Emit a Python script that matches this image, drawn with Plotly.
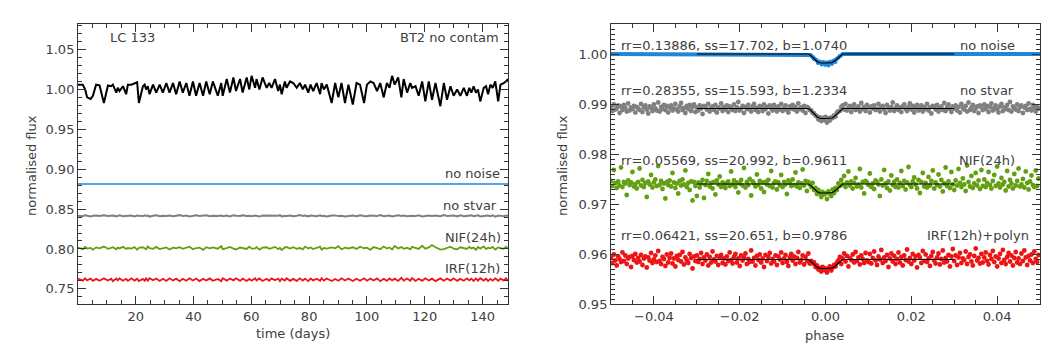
import plotly.graph_objects as go

# ---- left panel: light curve LC 133 (BT2, no contamination) ----
bt2_time = [
    0.0, 1.7, 2.5, 3.2, 4.4, 5.2, 6.3, 7.5, 9.0, 10.4, 11.5, 12.1, 13.3, 13.8, 14.4, 15.6,
    16.7, 17.3, 18.5, 19.6, 20.5, 21.1, 22.5, 23.1, 23.6, 24.2, 24.8, 26.0, 27.1, 28.3, 29.4,
    30.6, 31.7, 32.9, 34.0, 35.2, 36.3, 37.5, 38.6, 39.8, 40.9, 42.1, 43.3, 44.4, 45.6, 46.7,
    48.4, 49.6,
    50.1, 51.5, 52.6, 53.8, 54.7, 56.1, 57.0, 58.4, 59.3, 60.1, 61.3, 61.8, 62.8, 63.9, 65.3,
    66.2, 67.0, 68.2, 69.3, 69.9, 70.5, 71.6, 72.2, 73.4, 74.5, 75.7, 76.8, 77.8, 78.6, 79.7,
    80.5, 81.4, 82.6, 83.8, 84.3, 85.1, 86.1, 87.8, 89.0, 90.1, 91.2, 92.4, 93.6, 95.1, 96.4,
    97.6, 99.0,
    100.0, 101.2, 102.3, 103.5, 104.6, 105.8, 106.9, 107.8, 108.7, 109.6, 110.8, 111.9, 112.7,
    113.9, 115.0, 115.6, 116.8, 117.9, 119.1, 120.2, 121.4, 122.5, 123.7, 125.4, 126.6, 127.7,
    128.9, 130.0, 131.2, 132.3, 133.5, 134.6, 135.4, 136.1, 136.9, 137.7, 138.4, 139.2, 140.4,
    141.2, 141.9, 142.7, 143.5, 144.4, 145.4, 146.2, 147.3, 148.1, 148.8,
]
bt2_flux = [
    1.006, 1.006, 1.000, 0.990, 0.988, 0.992, 1.006, 1.005, 0.983, 1.005, 1.004, 1.006, 0.996,
    1.002, 0.998, 1.004, 0.994, 1.006, 1.006, 1.008, 1.009, 0.983, 1.004, 1.006, 1.000, 1.004,
    0.994, 1.006, 0.996, 1.006, 0.996, 1.008, 0.996, 1.008, 0.994, 1.010, 0.996, 1.008, 0.992,
    1.010, 0.992, 1.008, 0.992, 1.010, 0.994, 1.010, 0.992, 1.008,
    0.992, 1.013, 0.996, 1.015, 0.998, 1.013, 0.996, 1.015, 1.000, 1.017, 1.002, 1.013, 1.000,
    1.015, 1.002, 1.008, 1.002, 1.013, 0.998, 1.006, 0.994, 1.010, 1.002, 1.010, 1.008, 1.002,
    1.008, 1.000, 1.006, 0.996, 1.006, 0.998, 1.008, 0.994, 1.008, 1.000, 1.006, 0.983, 1.008,
    0.990, 1.008, 0.983, 1.006, 0.981, 1.008, 1.006, 0.983,
    1.006, 1.010, 1.008, 0.998, 1.008, 0.990, 1.008, 1.002, 1.017, 1.006, 1.015, 0.990, 1.013,
    0.996, 1.008, 1.002, 1.004, 0.992, 1.010, 0.985, 1.010, 0.987, 1.008, 0.979, 1.008, 0.987,
    1.004, 0.992, 1.000, 0.992, 1.002, 0.992, 1.002, 0.996, 1.004, 0.996, 1.000, 0.985, 1.002,
    1.004, 0.994, 1.006, 1.002, 1.010, 0.985, 1.006, 1.008, 1.010, 1.013,
]

# offset levels of the processed curves (left panel)
nonoise_time = [0.0, 148.8]
nonoise_flux = [0.8815, 0.8815]
stvar_level = 0.8415
nif_level = 0.8010
irf_level = 0.7615

# residual wiggles, in units of 1e-4 flux (same sampling as bt2_time)
stvar_dev = [
    3, -4, 6, -1, -7, 2, 5, -3, 8, -2, 0, 4, -6, 1, 7, -5, 2, -1,
    5, -8, 3, 0, -3, 6, -2, 4, -9, 1, 7, -4, 2, -1, 5, -6, 3, 9,
    -2, 4, -7, 1, 6, -3, 0, 8, -5, 2, -1, 5, -4, 3, -8, 6, 1, -2,
    7, -3, 2, -6, 4, 0, -9, 5, 3, -1, 6, -4, 1, 8, -7, 2, -3, 4,
    -5, 1, 9, -2, 3, -6, 5, 0, -4, 7, -1, 2, -8, 4, 6, -3, 1, -7,
    2, 5, -4, 8, -1, -6, 3, 1, -3, 10, -5, 2, 4, -7, 0, 6, -2, 3,
    -6, 4, 1, -3, 7, -8, 2, 5, -1, 3, -5, 9, -2, 0, 4, -6, 7, -4,
    1, -2, 6, -5, 3, 8, -7, 2, -1, 4, -3, 6, -9, 5, 0, -4, 3, 2,
]
nif_dev = [
    8, -12, 15, -5, 3, -18, 10, -2, 20, -9, 4, 12, -15, 6, -3, 17, -10, 2,
    -6, 14, -20, 5, 11, -4, -13, 22, 0, -8, 16, -11, 3, 9, -17, 6, -1, 13,
    -9, 4, 18, -14, 2, 7, -21, 12, -3, 10, -7, 25, -12, 1, 15, -6, -16, 8,
    3, -10, 19, -5, -2, 13, -18, 6, 11, -8, 0, 16, -13, 4, -23, 9, 14, -4,
    12, -7, 2, -15, 20, -3, 8, -11, 5, 17, -19, 3, -6, 10, -2, 24, -14, 7,
    -4, 11, -9, 18, -1, 6, -20, 14, 2, -12, 21, -5, 9, -16, 28, -3, 13, -8,
    5, -14, 16, -2, -10, 30, -6, 9, 40, 12, -18, -11, 4, 19, -7, -15, 11, 2,
    -9, 17, -3, 8, -20, 14, -5, 22, -12, 6, -1, 15, -17, 10, 3, -8, 18, -6,
]
irf_dev = [
    15, -12, 18, -8, 14, -16, 10, -14, 17, -10, 12, -18, 15, -9, 16, -13, 11, -15,
    18, -11, 13, -17, 9, -14, 16, -12, 19, -8, 14, -15, 12, -16, 17, -10, 13, -18,
    11, -13, 18, -9, 15, -17, 12, -11, 16, -14, 10, -18, 19, -12, 14, -9, 17, -15,
    13, -16, 9, -12, 18, -10, 15, -17, 11, -13, 16, -8, 14, -19, 12, -11, 18, -14,
    10, -15, 17, -12, 13, -18, 16, -9, 12, -14, 19, -11, 15, -16, 9, -13, 17, -10,
    14, -17, 11, -13, 18, -12, 15, -10, 16, -18, 12, -14, 17, -9, 13, -16, 24, -11,
    15, -12, 19, -16, 11, -14, 17, -10, 13, -18, 16, -12, 14, -11, 18, -15, 10, -13,
    17, -9, 12, -16, 15, -13, 19, -11, 14, -17, 10, -12, 16, -14, 13, -10, 18, -15,
]

# ---- right panel: phase-folded transits ----
blue_phase = [-0.05, -0.004, -0.0035, -0.003, -0.0025, -0.002, -0.0015, -0.001, -0.0005,
              0.0, 0.0005, 0.001, 0.0015, 0.002, 0.0025, 0.003, 0.0035, 0.004, 0.05]
blue_flux = [1.0, 1.0, 0.9998, 0.9994, 0.9990, 0.9986, 0.9983, 0.9982, 0.9982, 0.9982,
             0.9982, 0.9982, 0.9983, 0.9986, 0.9990, 0.9994, 0.9998, 1.0, 1.0]
blue_dip_phase = [-0.0032, -0.0027, -0.0022, -0.0018, -0.0013, -0.0009, -0.0005, -0.0001,
                  0.0003, 0.0007, 0.0011, 0.0015, 0.0019, 0.0023, 0.0028, 0.0033]
blue_dip_flux = [0.9995, 0.9990, 0.9988, 0.9982, 0.9985, 0.9979, 0.9984, 0.9978,
                 0.9983, 0.9977, 0.9985, 0.9980, 0.9987, 0.9984, 0.9991, 0.9996]

grey_level = 0.9891
green_level = 0.9740
red_level = 0.9589

# per-point deviations in units of 1e-4 flux, 300 points across the phase range
grey_dev = [
    3, -5, 8, -2, 0, 6, -9, 4, -3, 7, 1, -6, 10, -4, 2, -1, 5, -8, 3, 0,
    -3, 9, -7, 2, 6, -2, -10, 4, 1, -5, 8, 0, -4, 12, -6, 3, -1, 7, -3, 5,
    -8, 2, 6, -4, 0, 9, -2, -6, 4, 11, -3, 1, -9, 5, -1, 7, -5, 3, 8, -7,
    2, -4, 6, 0, -11, 5, 3, -2, 9, -6, 1, 4, -3, 7, -8, 2, 0, 10, -5, 3,
    -2, 6, -7, 4, 1, -3, 8, -5, 2, 13, -4, 0, 5, -9, 3, -1, 7, -2, -6, 4,
    9, -3, 1, -7, 5, 2, -5, 8, -1, 3, -10, 6, 0, -4, 7, 2, -6, 4, -2, 9,
    -5, 1, 6, -3, -8, 4, 0, 7, -2, 3, -6, 10, -1, 2, -4, 5, -9, 3, 1, -3,
    -4, -9, -10, -14, -16, -22, -18, -25, -19, -23, -17, -28, -20, -24, -18, -19, -14, -16, -8, -6,
    -5, 3, 6, -2, 9, -4, 1, 5, -7, 2, 8, -3, 0, 4, -6, 11, -1, 3, -5, 7,
    2, -8, 4, 0, 6, -3, -1, 9, -6, 3, 5, -2, -9, 7, 1, -4, 3, 12, -5, 0,
    6, -3, 2, -7, 4, 8, -1, -5, 3, 10, -2, 5, -8, 1, 7, -4, 0, 6, -6, 3,
    -1, 9, -4, 2, -10, 5, 3, -2, 7, -6, 1, 4, -3, 11, -5, 2, 8, -1, -7, 4,
    0, 6, -4, 3, -8, 9, 1, -2, 5, -6, 12, -3, 2, 7, -5, 0, 4, -9, 6, 2,
    -3, 8, -1, 5, -7, 3, 10, -4, 1, 6, -2, -8, 4, 9, -5, 2, -1, 7, -3, 13,
    -6, 4, 1, -2, 8, -5, 3, 6, -9, 2, 5, -3, 10, -1, -4, 7, 2, -6, 4, 0,
]
green_dev = [
    6, -4, 28, 2, -8, 5, -3, 33, -6, 4, 1, -22, 7, -2, 3, 24, -5, 0, -9, 4,
    31, -3, 8, -6, 2, -26, 5, -1, 18, -7, 3, 9, -4, 36, -2, 6, -10, 1, -29, 4,
    -2, 7, -5, 22, 3, -8, 1, -19, 6, -3, 9, -1, 27, -6, 2, -12, 5, -33, 4, -4,
    -24, 3, -7, 1, 8, -28, -2, 6, 20, -5, 2, -9, 4, -21, 7, -1, 15, -6, 3, -3,
    -8, 2, 5, -4, 25, -1, 7, -6, 3, -17, 1, 8, -3, 32, -7, 4, -2, 10, -23, 5,
    1, -5, 19, -2, 6, -9, 3, -16, 4, -1, 8, -4, 26, -7, 2, 5, -11, 3, -3, 18,
    -6, 4, -1, -20, 7, 2, -4, 9, -2, 23, -5, 3, -8, 1, 29, -3, 6, -14, 4, -1,
    -6, 2, -12, -8, -20, -12, -18, -26, -16, -21, -19, -30, -15, -20, -24, -11, -18, -8, -12, 1,
    -4, 8, -1, 16, -6, 3, 25, -3, 5, -9, 2, 12, -5, -1, 30, -7, 4, -19, 6, 3,
    -2, 21, -6, 1, -10, 7, 4, -1, -24, 9, -3, 28, 1, -8, 5, -13, 17, -2, 4, -6,
    9, -7, 2, 26, -4, 6, -11, 3, 34, -2, -6, 5, 13, -1, -9, 8, -18, 4, 22, -5,
    2, -7, 14, -3, 6, 27, -9, 3, -2, 19, -5, 8, -15, 1, 33, -4, 5, -8, 24, -1,
    -12, 7, -3, 30, 2, -6, 11, -1, -14, 37, 4, -5, 16, -8, 1, 22, -3, 7, -10, 28,
    -4, 9, -6, 2, 24, -2, -9, 6, 18, -4, 35, 1, -7, 12, -1, 4, -13, 26, -5, 8,
    1, -9, 20, -3, 6, 31, -5, -1, 10, -7, 25, 2, -11, 5, 17, -2, -6, 27, -4, 11,
]
red_dev = [
    4, -7, 10, -2, -12, 6, 1, -5, 14, -3, 8, -9, 2, 5, -15, 7, -1, 11, -6, 3,
    -4, 9, -11, 2, 6, -16, 4, -2, 13, -7, 0, 8, -5, 17, -3, -9, 5, 1, -13, 10,
    -6, 3, 12, -8, 2, -14, 7, -1, 9, -4, 15, -10, 4, -2, -7, 11, 3, -18, 6, -3,
    8, -5, 1, 13, -9, 4, -2, 10, -12, 5, -6, 16, 0, -4, 7, -11, 3, 9, -7, 2,
    -10, 6, -3, 14, -1, -8, 5, 11, -6, 2, -13, 8, -2, 4, 12, -9, 1, -5, 18, -4,
    3, -12, 7, -1, 10, -6, 2, -15, 9, -3, 5, 13, -8, 1, -4, 8, -11, 6, 0, 14,
    -7, 2, 9, -5, -13, 4, 11, -2, 6, -9, 3, 15, -6, -1, 8, -10, 5, -3, 12, -8,
    -3, -8, -6, -15, -12, -20, -17, -24, -15, -21, -18, -26, -19, -14, -22, -16, -11, -14, -6, -2,
    5, -9, 2, 12, -4, 7, -14, 3, -1, 10, -6, 15, -3, 4, -10, 8, 1, -7, 13, -2,
    -5, 11, -8, 3, 16, -2, -11, 6, 0, 19, -7, 4, -3, 9, -15, 2, 12, -4, 7, -9,
    1, 14, -6, 5, -12, 8, -1, 20, -4, 3, -9, 11, -2, 6, -16, 9, 4, -7, 17, -3,
    10, -5, 2, -13, 7, 15, -2, -8, 4, 12, -10, 1, 18, -6, 3, -4, 9, -14, 6, 21,
    -3, 8, -11, 4, 13, -7, 2, -1, 16, -9, 5, 10, -4, -12, 7, 22, -2, 3, -8, 11,
    -6, 4, 14, -3, -10, 9, 1, 17, -5, 6, -14, 2, 11, -7, 19, -1, -9, 5, 13, -4,
    8, -12, 3, 15, -6, 2, -9, 12, -3, 18, 4, -11, 7, -2, 10, -7, 16, 1, -5, 9,
]

# transit model fits
fit_phase = [-0.03, -0.004, -0.0035, -0.003, -0.0025, -0.002, -0.0015, -0.001, 0.0,
             0.001, 0.0015, 0.002, 0.0025, 0.003, 0.0035, 0.004, 0.03]
fit_blue = [1.0, 1.0, 0.99973, 0.99932, 0.99888, 0.99852, 0.99829, 0.9982, 0.9982,
            0.9982, 0.99829, 0.99852, 0.99888, 0.99932, 0.99973, 1.0, 1.0]
fit_grey = [0.9891, 0.9891, 0.9888, 0.98834, 0.98786, 0.98746, 0.9872, 0.9871, 0.9871,
            0.9871, 0.9872, 0.98746, 0.98786, 0.98834, 0.9888, 0.9891, 0.9891]
fit_green = [0.974, 0.974, 0.97373, 0.97332, 0.97288, 0.97252, 0.97229, 0.9722, 0.9722,
             0.9722, 0.97229, 0.97252, 0.97288, 0.97332, 0.97373, 0.974, 0.974]
fit_red = [0.9589, 0.9589, 0.95863, 0.95822, 0.95778, 0.95742, 0.95719, 0.9571, 0.9571,
           0.9571, 0.95719, 0.95742, 0.95778, 0.95822, 0.95863, 0.9589, 0.9589]

fit_labels = [
    "rr=0.13886, ss=17.702, b=1.0740",
    "rr=0.28355, ss=15.593, b=1.2334",
    "rr=0.05569, ss=20.992, b=0.9611",
    "rr=0.06421, ss=20.651, b=0.9786",
]
right_labels = ["no noise", "no stvar", "NIF(24h)", "IRF(12h)+polyn"]
left_labels = ["no noise", "no stvar", "NIF(24h)", "IRF(12h)"]

BLUE = "#1f86d8"
GREY = "#808080"
GREEN = "#62a012"
RED = "#ee1414"
TXT = "#404040"
AXC = "#333333"
FONT = "DejaVu Sans"

phase = [(i - 150) / 3000 for i in range(len(grey_dev))]


def shifted(level, devs):
    return [level + d / 1e4 for d in devs]


fig = go.Figure()

# left panel
fig.add_trace(go.Scatter(x=bt2_time, y=bt2_flux, mode="lines",
                         line=dict(color="black", width=2), xaxis="x", yaxis="y"))
fig.add_trace(go.Scatter(x=nonoise_time, y=nonoise_flux, mode="lines",
                         line=dict(color=BLUE, width=1.5), xaxis="x", yaxis="y"))
fig.add_trace(go.Scatter(x=bt2_time, y=shifted(stvar_level, stvar_dev), mode="lines",
                         line=dict(color=GREY, width=2), xaxis="x", yaxis="y"))
fig.add_trace(go.Scatter(x=bt2_time, y=shifted(nif_level, nif_dev), mode="lines",
                         line=dict(color=GREEN, width=1.8), xaxis="x", yaxis="y"))
fig.add_trace(go.Scatter(x=bt2_time, y=shifted(irf_level, irf_dev), mode="lines",
                         line=dict(color=RED, width=1.8), xaxis="x", yaxis="y"))

# right panel
fig.add_trace(go.Scatter(x=blue_phase, y=blue_flux, mode="lines",
                         line=dict(color=BLUE, width=4), xaxis="x2", yaxis="y2"))
fig.add_trace(go.Scatter(x=blue_dip_phase, y=blue_dip_flux, mode="markers",
                         marker=dict(color=BLUE, size=4), xaxis="x2", yaxis="y2"))
for level, devs, col in [(grey_level, grey_dev, GREY),
                         (green_level, green_dev, GREEN),
                         (red_level, red_dev, RED)]:
    fig.add_trace(go.Scatter(x=phase, y=shifted(level, devs), mode="markers",
                             marker=dict(color=col, size=4.8, line=dict(width=0)),
                             xaxis="x2", yaxis="y2"))
for fit in [fit_blue, fit_grey, fit_green, fit_red]:
    fig.add_trace(go.Scatter(x=fit_phase, y=fit, mode="lines",
                             line=dict(color="black", width=1.2), xaxis="x2", yaxis="y2"))

axis_common = dict(
    showline=True, linecolor=AXC, linewidth=1, mirror="ticks", automargin=False,
    ticks="inside", ticklen=8, tickcolor=AXC, showgrid=False, zeroline=False,
    tickfont=dict(family=FONT, size=13, color=TXT),
)

fig.update_layout(
    width=1063, height=354,
    margin=dict(l=0, r=0, t=0, b=0),
    paper_bgcolor="white", plot_bgcolor="white",
    showlegend=False,
    font=dict(family=FONT, size=13, color=TXT),
    xaxis=dict(domain=[0.0734, 0.4779], range=[0.05, 148.8], dtick=20, tick0=0,
               minor=dict(dtick=5, ticks="inside", ticklen=4, tickcolor=AXC),
               anchor="y", **axis_common),
    yaxis=dict(domain=[0.1412, 0.9322], range=[0.731, 1.082], dtick=0.05, tick0=0.75,
               tickformat=".2f",
               minor=dict(dtick=0.01, ticks="inside", ticklen=4, tickcolor=AXC),
               anchor="x", **axis_common),
    xaxis2=dict(domain=[0.5748, 0.9784], range=[-0.05, 0.05], dtick=0.02, tick0=0,
                tickformat=".2f",
                minor=dict(dtick=0.005, ticks="inside", ticklen=4, tickcolor=AXC),
                anchor="y2", **axis_common),
    yaxis2=dict(domain=[0.1412, 0.9322], range=[0.95, 1.006], dtick=0.01, tick0=0.95,
                tickformat=".2f",
                minor=dict(dtick=0.001, ticks="inside", ticklen=4, tickcolor=AXC),
                anchor="x2", **axis_common),
)

ann = []
# left panel labels
ann.append(dict(x=10.3, y=1.065, xref="x", yref="y", text="LC 133",
                xanchor="left", yanchor="middle", showarrow=False))
ann.append(dict(x=146.3, y=1.065, xref="x", yref="y", text="BT2 no contam",
                xanchor="right", yanchor="middle", showarrow=False))
for txt, xx, yy in zip(left_labels, [146.6, 145.8, 147.0, 146.8],
                       [0.894, 0.8546, 0.815, 0.7754]):
    ann.append(dict(x=xx, y=yy, xref="x", yref="y", text=txt,
                    xanchor="right", yanchor="middle", showarrow=False))
# right panel labels
for txt, yy in zip(fit_labels, [1.0018, 0.9928, 0.9788, 0.9638]):
    ann.append(dict(x=-0.0481, y=yy, xref="x2", yref="y2", text=txt,
                    xanchor="left", yanchor="middle", showarrow=False))
for txt, xx, yy in zip(right_labels, [0.0447, 0.0444, 0.0446, 0.0478],
                       [1.0018, 0.9928, 0.9788, 0.9638]):
    ann.append(dict(x=xx, y=yy, xref="x2", yref="y2", text=txt,
                    xanchor="right", yanchor="middle", showarrow=False))
# axis titles
ann.append(dict(x=0.0301, y=0.534, xref="paper", yref="paper", text="normalised flux",
                textangle=-90, showarrow=False, xanchor="center", yanchor="middle"))
ann.append(dict(x=0.5296, y=0.534, xref="paper", yref="paper", text="normalised flux",
                textangle=-90, showarrow=False, xanchor="center", yanchor="middle"))
ann.append(dict(x=0.2756, y=0.0565, xref="paper", yref="paper", text="time (days)",
                showarrow=False, xanchor="center", yanchor="middle"))
ann.append(dict(x=0.776, y=0.0517, xref="paper", yref="paper", text="phase",
                showarrow=False, xanchor="center", yanchor="middle"))

fig.update_layout(annotations=ann)

# page tweaks: no default body margin and no scrollbars, so the figure fills the window
page_js = (
    "document.documentElement.style.overflow='hidden';"
    "document.body.style.margin='0px';"
    "document.body.style.overflow='hidden';"
)
fig.write_html("out.html", config={"displayModeBar": False}, post_script=page_js)
